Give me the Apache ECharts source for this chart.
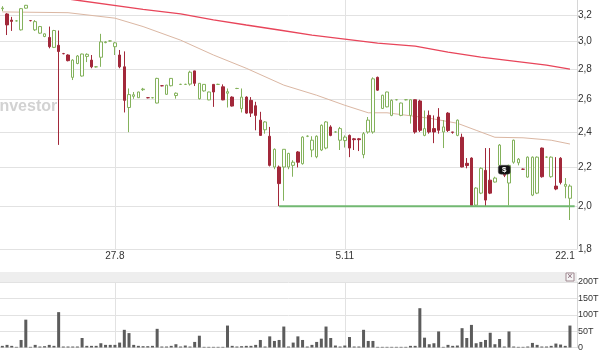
<!DOCTYPE html>
<html><head><meta charset="utf-8">
<script src="https://cdn.jsdelivr.net/npm/echarts@6/dist/echarts.min.js"></script>
<style>html,body{margin:0;padding:0;background:#fff}#c{width:600px;height:353px}</style>
</head><body><div id="c"></div>
<script>
// trading days (d.m)
const dates = ["24.7","25.7","26.7","27.7","30.7","31.7","1.8","2.8","3.8","6.8","7.8","8.8","9.8","10.8","13.8","14.8","15.8","16.8","17.8","20.8","21.8","22.8","23.8","24.8",
"27.8","28.8","29.8","30.8","31.8","3.9","4.9","5.9","6.9","7.9","10.9","11.9","12.9","13.9","17.9","18.9","19.9","20.9","21.9","24.9","25.9","26.9","27.9","28.9",
"1.10","2.10","3.10","4.10","5.10","8.10","9.10","10.10","11.10","12.10","15.10","16.10","17.10","18.10","19.10","22.10","23.10","24.10","25.10","26.10","29.10","30.10","31.10","1.11","2.11",
"5.11","6.11","7.11","8.11","9.11","12.11","13.11","14.11","15.11","16.11","19.11","20.11","21.11","22.11","23.11","26.11","27.11","28.11","29.11","30.11",
"3.12","4.12","5.12","7.12","10.12","11.12","12.12","13.12","14.12","17.12","18.12","19.12","20.12","21.12","28.12","3.1","4.1","7.1","8.1","9.1","10.1","11.1","14.1","15.1","16.1","17.1","18.1","21.1","22.1"];

// [open, close, low, high]
const candles = [
[3.25,3.255,3.23,3.27],[3.208,3.123,3.046,3.215],[3.16,3.15,3.077,3.185],[3.154,3.154,3.15,3.16],[3.085,3.25,3.08,3.255],
[3.254,3.277,3.25,3.28],[3.156,3.156,3.15,3.16],[3.085,3.148,3.077,3.16],[3.06,3.11,3.055,3.115],[3.035,3.055,3.03,3.058],
[3.028,2.96,2.948,3.11],[2.955,3.08,2.95,3.085],[2.97,2.925,2.325,3.08],[2.91,2.91,2.905,2.915],[2.90,2.86,2.855,2.905],
[2.745,2.864,2.727,2.87],[2.84,2.893,2.835,2.90],[2.754,2.907,2.75,2.91],[2.89,2.905,2.85,2.912],[2.864,2.817,2.807,2.90],
[2.817,2.817,2.812,2.822],[2.884,2.995,2.817,3.055],[2.99,2.995,2.985,3.0],[3.002,3.002,2.998,3.006],[2.96,2.988,2.90,2.995],
[2.90,2.817,2.807,2.936],[2.817,2.594,2.518,2.926],[2.549,2.631,2.399,2.671],[2.62,2.63,2.604,2.648],[2.611,2.648,2.61,2.65],
[2.663,2.667,2.655,2.675],[2.611,2.611,2.607,2.615],[2.611,2.611,2.607,2.615],[2.577,2.738,2.575,2.742],[2.689,2.689,2.685,2.693],
[2.633,2.693,2.63,2.695],[2.689,2.738,2.685,2.74],[2.625,2.64,2.605,2.645],[2.698,2.698,2.694,2.702],[2.698,2.698,2.694,2.702],
[2.70,2.78,2.69,2.79],[2.789,2.705,2.687,2.79],[2.604,2.705,2.60,2.705],[2.655,2.698,2.65,2.70],[2.597,2.648,2.595,2.65],
[2.698,2.648,2.553,2.70],[2.698,2.698,2.694,2.702],[2.682,2.597,2.595,2.698],[2.64,2.65,2.549,2.671],[2.615,2.558,2.555,2.62],
[2.671,2.671,2.667,2.675],[2.543,2.615,2.518,2.671],[2.615,2.514,2.51,2.62],[2.594,2.514,2.49,2.615],[2.56,2.50,2.41,2.585],
[2.471,2.38,2.378,2.522],[2.413,2.46,2.39,2.465],[2.375,2.211,2.205,2.43],[2.202,2.30,2.19,2.305],[2.202,2.114,2.0,2.21],
[2.202,2.30,2.027,2.30],[2.202,2.277,2.19,2.28],[2.211,2.228,2.15,2.239],[2.285,2.228,2.20,2.29],[2.22,2.37,2.215,2.375],
[2.375,2.375,2.37,2.38],[2.296,2.352,2.256,2.375],[2.258,2.375,2.25,2.38],[2.296,2.44,2.29,2.445],[2.307,2.46,2.30,2.465],
[2.43,2.38,2.375,2.44],[2.40,2.40,2.396,2.404],[2.352,2.42,2.296,2.43],[2.35,2.37,2.31,2.38],[2.38,2.307,2.256,2.385],
[2.36,2.355,2.296,2.365],[2.36,2.355,2.29,2.365],[2.27,2.39,2.25,2.40],[2.40,2.471,2.39,2.49],[2.40,2.735,2.39,2.745],
[2.745,2.66,2.655,2.75],[2.543,2.627,2.54,2.63],[2.553,2.648,2.55,2.65],[2.50,2.594,2.495,2.60],[2.598,2.598,2.594,2.602],
[2.50,2.577,2.495,2.58],[2.598,2.598,2.594,2.602],[2.50,2.598,2.45,2.60],[2.598,2.40,2.39,2.60],[2.59,2.41,2.40,2.598],
[2.38,2.42,2.375,2.53],[2.50,2.40,2.39,2.53],[2.42,2.40,2.335,2.50],[2.49,2.41,2.39,2.545],[2.40,2.43,2.307,2.471],
[2.514,2.409,2.40,2.52],[2.40,2.398,2.39,2.40],[2.38,2.471,2.375,2.475],[2.369,2.202,2.20,2.39],[2.222,2.21,2.195,2.251],
[2.251,2.003,2.0,2.255],[2.005,2.091,2.0,2.095],[2.065,2.195,2.06,2.20],[2.184,2.03,2.0,2.307],[2.132,2.065,2.06,2.307],
[2.122,2.143,2.12,2.15],[2.211,2.324,2.2,2.33],[2.184,2.158,2.148,2.19],[2.117,2.211,2.003,2.215],[2.228,2.352,2.22,2.355],
[2.225,2.245,2.211,2.251],[2.19,2.19,2.186,2.194],[2.148,2.256,2.145,2.26],[2.055,2.256,2.05,2.26],[2.065,2.256,2.06,2.26],
[2.307,2.15,2.145,2.31],[2.256,2.256,2.252,2.26],[2.15,2.256,2.145,2.26],[2.101,2.086,2.08,2.256],[2.25,2.12,2.11,2.256],
[2.10,2.11,2.039,2.143],[2.039,2.101,1.933,2.11]
];

// volume, thousands (T)
const volumes = [5,8,5,2,23,85,2,8,3,4,8,5,108,3,3,3,3,29,5,5,5,13,8,8,8,15,54,44,8,5,4,4,5,57,3,3,5,10,3,6,
3,17,36,2,2,2,2,2,67,5,3,4,5,5,8,23,3,34,20,23,64,3,15,34,23,3,8,17,27,64,29,6,3,6,32,3,3,54,20,20,
2,2,2,2,2,2,2,5,5,120,30,10,13,49,2,8,5,6,59,29,69,13,17,23,45,10,26,3,49,3,2,2,3,14,8,3,3,5,12,9,5,67];

// moving averages: [dayIndex, price]
const maLong = [[8,3.357],[16,3.318],[30,3.245],[38,3.208],[45,3.161],[52,3.122],[59,3.084],[66,3.046],[73,3.016],[80,2.986],[88,2.964],[95,2.921],[102,2.885],[109,2.857],[116,2.829],[121,2.801]];
const maMid = [[0,3.224],[14,3.218],[24,3.175],[30,3.11],[38,3.008],[45,2.90],[52,2.807],[60,2.693],[67,2.627],[73,2.563],[78,2.516],[82,2.516],[91,2.483],[97,2.452],[101,2.41],[105,2.369],[111,2.366],[117,2.352],[121,2.33]];
const supportLine = [[59,2.0],[122,2.0]];

const priceTicks = [1.8,2.0,2.2,2.4,2.6,2.8,3.0,3.2];
const dateLabelIdx = [24,73,121];
const dateGridLines = ["27.8","5.11"];
const eventMark = {date:"28.12", price:2.187, text:"$"};

const font = "'Liberation Sans', Arial, sans-serif";
const gridColor = '#e2e2e2';
const cats = dates.concat(['']);

const chart = echarts.init(document.getElementById('c'), null, {renderer:'canvas', width:600, height:353});
chart.setOption({
  animation:false,
  backgroundColor:'#ffffff',
  textStyle:{fontFamily:font},
  grid:[
    {left:0, top:0, width:577, height:249, containLabel:false, outerBoundsMode:'none'},
    {left:0, top:282, width:577, height:65.5, containLabel:false, outerBoundsMode:'none'}
  ],
  xAxis:[
    {type:'category', gridIndex:0, data:cats, boundaryGap:true,
     axisLine:{show:false}, axisTick:{show:false}, splitLine:{show:false},
     axisLabel:{interval:(i)=>dateLabelIdx.indexOf(i)>=0, fontSize:10, color:'#333', margin:2, fontFamily:font,
       formatter:(v,i)=> i===121 ? '{r|'+v+'}' : v,
       rich:{r:{padding:[0,10,0,0], fontSize:10, color:'#333', fontFamily:font}}}},
    {type:'category', gridIndex:1, data:cats, boundaryGap:true,
     axisLine:{show:false}, axisTick:{show:false}, axisLabel:{show:false}, splitLine:{show:false}}
  ],
  yAxis:[
    {type:'log', gridIndex:0, logBase:10, min:1.8, max:3.32, position:'right',
     axisLine:{show:true, lineStyle:{color:'#d6d6d6'}}, axisTick:{show:false}, axisLabel:{show:false}, splitLine:{show:false}},
    {type:'value', gridIndex:1, min:0, max:200, interval:50, position:'right',
     axisLine:{show:true, lineStyle:{color:'#d6d6d6'}}, axisTick:{show:false},
     splitLine:{show:true, lineStyle:{color:gridColor, width:1}},
     axisLabel:{fontSize:9, color:'#333', margin:1, fontFamily:font, formatter:v=> v ? v+'T' : '0'}}
  ],
  graphic:[
    {type:'text', left:-5, top:99, z:0, silent:true,
     style:{text:'Investor', font:"bold 16px 'Liberation Sans', Arial, sans-serif", fill:'#d2d2d2'}},
    {type:'rect', shape:{x:0, y:272, width:577, height:10}, style:{fill:'#eeeeee', stroke:null}, z:0, silent:true},
    {type:'rect', shape:{x:566, y:273, width:8, height:8}, style:{fill:'#f6f6f6', stroke:'#a08890', lineWidth:1}, z:1, silent:true},
    {type:'text', x:570, y:277, style:{text:'×', fill:'#806070', font:"9px 'Liberation Sans', Arial", align:'center', verticalAlign:'middle'}, z:2, silent:true}
  ],
  series:[
    {type:'line', name:'ma-mid', xAxisIndex:0, yAxisIndex:0, data:maMid, showSymbol:false, symbol:'none', z:2,
     lineStyle:{color:'#dbb7a3', width:1}, silent:true,
     markLine:{symbol:'none', silent:true, animation:false, z:1,
       lineStyle:{color:gridColor, width:1, type:'solid'},
       label:{show:true, position:'end', distance:1, fontSize:10, color:'#333', fontFamily:font},
       data: priceTicks.map(v=>({yAxis:v, label:{formatter:v.toFixed(1).replace('.',',')}}))
             .concat(dateGridLines.map(d=>({xAxis:d, label:{show:false}})))}},
    {type:'candlestick', xAxisIndex:0, yAxisIndex:0, data:candles, barWidth:3, z:3, silent:true,
     itemStyle:{color:'#ffffff', color0:'#a2283a', borderColor:'#84b25c', borderColor0:'#a2283a', borderWidth:1},
     markPoint:{silent:true, animation:false,
       data:[{coord:[eventMark.date, eventMark.price], symbol:'roundRect', symbolSize:[12,9],
              itemStyle:{color:'#111111', borderColor:'#555', borderWidth:0.5},
              label:{show:true, position:'inside', formatter:eventMark.text, color:'#fff', fontSize:8, fontWeight:'bold', fontFamily:font}}]}},
    {type:'line', name:'ma-long', xAxisIndex:0, yAxisIndex:0, data:maLong, showSymbol:false, symbol:'none', z:4, clip:true,
     lineStyle:{color:'#e8455a', width:1.3}, silent:true},
    {type:'line', name:'support', xAxisIndex:0, yAxisIndex:0, data:supportLine, showSymbol:false, symbol:'none', z:4,
     lineStyle:{color:'#72b872', width:2}, silent:true},
    {type:'bar', xAxisIndex:1, yAxisIndex:1, data:volumes, barWidth:3, z:3, silent:true,
     itemStyle:{color:'#5c5c5c'},
     markLine:{symbol:'none', silent:true, animation:false, z:1, label:{show:false},
       lineStyle:{color:gridColor, width:1, type:'solid'},
       data: dateGridLines.map(d=>({xAxis:d}))}}
  ]
});
</script>
</body></html>
